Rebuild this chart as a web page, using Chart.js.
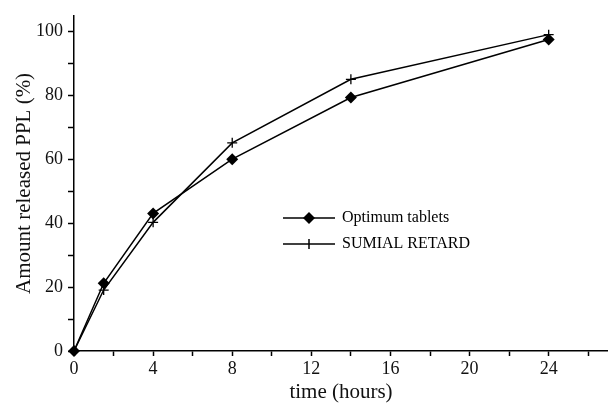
<!DOCTYPE html>
<html>
<head>
<meta charset="utf-8">
<script src="https://cdn.jsdelivr.net/npm/chart.js@4"></script>
<style>
  html, body { margin: 0; padding: 0; background: #fff; }
  canvas { display: block; }
</style>
</head>
<body>
<canvas id="chart" width="608" height="405"></canvas>
<script>
const times = [0, 1.5, 4, 8, 14, 24];
const optimum = [0, 21.2, 43.1, 60.1, 79.4, 97.6];
const sumial = [0, 19.1, 40.3, 65.2, 85.1, 99.1];
const seriesNames = ["Optimum tablets", "SUMIAL RETARD"];
const xTicks = [0, 2, 4, 6, 8, 10, 12, 14, 16, 18, 20, 22, 24, 26];
const yTicks = [0, 10, 20, 30, 40, 50, 60, 70, 80, 90, 100];

const serif = "'Liberation Serif', 'Times New Roman', serif";

const toXY = (ys) => times.map((t, i) => ({ x: t, y: ys[i] }));

// legend drawn inside the plot area
const innerLegend = {
  id: "innerLegend",
  afterDraw(chart) {
    const ctx = chart.ctx;
    const rows = [
      { label: seriesNames[0], style: "diamond", y: 218 },
      { label: seriesNames[1], style: "cross", y: 244 },
    ];
    ctx.save();
    ctx.strokeStyle = "#000";
    ctx.fillStyle = "#000";
    ctx.lineWidth = 1.5;
    ctx.font = "16px " + serif;
    ctx.textBaseline = "middle";
    rows.forEach((r) => {
      ctx.beginPath();
      ctx.moveTo(283, r.y);
      ctx.lineTo(335, r.y);
      ctx.stroke();
      const cx = 309;
      if (r.style === "diamond") {
        ctx.beginPath();
        ctx.moveTo(cx, r.y - 6);
        ctx.lineTo(cx + 6, r.y);
        ctx.lineTo(cx, r.y + 6);
        ctx.lineTo(cx - 6, r.y);
        ctx.closePath();
        ctx.fill();
      } else {
        ctx.beginPath();
        ctx.moveTo(cx, r.y - 5);
        ctx.lineTo(cx, r.y + 5);
        ctx.stroke();
      }
      ctx.fillText(r.label, 342, r.y);
    });
    ctx.restore();
  },
};

new Chart(document.getElementById("chart"), {
  type: "line",
  data: {
    datasets: [
      {
        label: seriesNames[0],
        data: toXY(optimum),
        borderColor: "#000",
        backgroundColor: "#000",
        borderWidth: 1.5,
        pointStyle: "rectRot",
        pointRadius: 6,
        pointBorderWidth: 0,
        tension: 0,
        clip: false,
      },
      {
        label: seriesNames[1],
        data: toXY(sumial),
        borderColor: "#000",
        backgroundColor: "#000",
        borderWidth: 1.5,
        pointStyle: "cross",
        pointRadius: 5,
        pointBorderWidth: 1.3,
        tension: 0,
        clip: false,
      },
    ],
  },
  options: {
    responsive: false,
    animation: false,
    layout: { autoPadding: false, padding: { top: 13, right: 0, left: 0, bottom: 0 } },
    plugins: {
      legend: { display: false },
      tooltip: { enabled: false },
    },
    scales: {
      x: {
        type: "linear",
        min: 0,
        max: 27,
        afterBuildTicks: (s) => { s.ticks = xTicks.map((v) => ({ value: v })); },
        afterFit: (s) => { s.height = 54; s.paddingRight = 0; },
        ticks: {
          autoSkip: false,
          maxRotation: 0,
          color: "#111",
          padding: 2,
          font: { family: serif, size: 18 },
          callback: (v) => (v % 4 === 0 ? v : ""),
        },
        grid: { drawOnChartArea: false, tickLength: 5, tickColor: "#000", tickWidth: 1.5 },
        border: { color: "#000", width: 1.5 },
        title: {
          display: true,
          text: "time (hours)",
          color: "#111",
          font: { family: serif, size: 21 },
          padding: { top: 0, bottom: 0 },
        },
      },
      y: {
        min: 0,
        max: 105,
        afterBuildTicks: (s) => { s.ticks = yTicks.map((v) => ({ value: v })); },
        afterFit: (s) => { s.width = 74; },
        ticks: {
          autoSkip: false,
          color: "#111",
          padding: 5,
          font: { family: serif, size: 18 },
          callback: (v) => (v % 20 === 0 ? v : ""),
        },
        grid: { drawOnChartArea: false, tickLength: 6, tickColor: "#000", tickWidth: 1.5 },
        border: { color: "#000", width: 1.5 },
        title: {
          display: true,
          text: "Amount released PPL (%)",
          color: "#111",
          font: { family: serif, size: 21 },
          padding: { top: 12, bottom: 4 },
        },
      },
    },
  },
  plugins: [innerLegend],
});
</script>
</body>
</html>
